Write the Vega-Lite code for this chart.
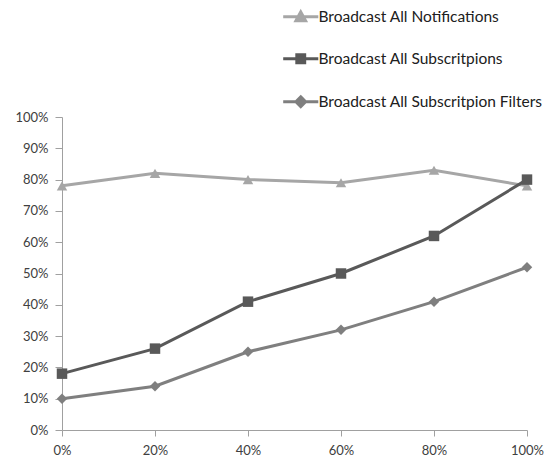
{
  "$schema": "https://vega.github.io/schema/vega-lite/v6.json",
  "width": 465,
  "height": 313,
  "autosize": {"type": "none"},
  "padding": {"left": 62, "top": 117, "right": 25, "bottom": 36},
  "background": "white",
  "config": {"view": {"stroke": null}, "font": "Lato"},
  "data": {"values": [
    {"x": 0, "pct": 0.78, "series": "Broadcast All Notifications"},
    {"x": 0.2, "pct": 0.82, "series": "Broadcast All Notifications"},
    {"x": 0.4, "pct": 0.80, "series": "Broadcast All Notifications"},
    {"x": 0.6, "pct": 0.79, "series": "Broadcast All Notifications"},
    {"x": 0.8, "pct": 0.83, "series": "Broadcast All Notifications"},
    {"x": 1.0, "pct": 0.78, "series": "Broadcast All Notifications"},
    {"x": 0, "pct": 0.18, "series": "Broadcast All Subscritpions"},
    {"x": 0.2, "pct": 0.26, "series": "Broadcast All Subscritpions"},
    {"x": 0.4, "pct": 0.41, "series": "Broadcast All Subscritpions"},
    {"x": 0.6, "pct": 0.50, "series": "Broadcast All Subscritpions"},
    {"x": 0.8, "pct": 0.62, "series": "Broadcast All Subscritpions"},
    {"x": 1.0, "pct": 0.80, "series": "Broadcast All Subscritpions"},
    {"x": 0, "pct": 0.10, "series": "Broadcast All Subscritpion Filters"},
    {"x": 0.2, "pct": 0.14, "series": "Broadcast All Subscritpion Filters"},
    {"x": 0.4, "pct": 0.25, "series": "Broadcast All Subscritpion Filters"},
    {"x": 0.6, "pct": 0.32, "series": "Broadcast All Subscritpion Filters"},
    {"x": 0.8, "pct": 0.41, "series": "Broadcast All Subscritpion Filters"},
    {"x": 1.0, "pct": 0.52, "series": "Broadcast All Subscritpion Filters"}
  ]},
  "encoding": {
    "x": {"field": "x", "type": "quantitative", "scale": {"domain": [0, 1], "nice": false},
      "axis": {"values": [0, 0.2, 0.4, 0.6, 0.8, 1], "format": ".0%", "title": null, "grid": false, "labelFlush": false,
        "domainColor": "#a0a0a0", "tickColor": "#a0a0a0", "tickSize": 6, "labelPadding": 8,
        "labelColor": "#404040", "labelFontSize": 13, "labelFont": "Lato"}},
    "y": {"field": "pct", "type": "quantitative", "scale": {"domain": [0, 1], "nice": false},
      "axis": {"values": [0, 0.1, 0.2, 0.3, 0.4, 0.5, 0.6, 0.7, 0.8, 0.9, 1], "format": ".0%", "title": null, "grid": false,
        "domainColor": "#a0a0a0", "tickColor": "#a0a0a0", "tickSize": 7, "labelPadding": 7,
        "labelColor": "#404040", "labelFontSize": 13, "labelFont": "Lato"}},
    "color": {"field": "series", "type": "nominal",
      "scale": {"domain": ["Broadcast All Notifications", "Broadcast All Subscritpions", "Broadcast All Subscritpion Filters"],
        "range": ["#a6a6a6", "#595959", "#7f7f7f"]},
      "legend": {"orient": "none", "legendX": 231, "legendY": -108, "title": null, "padding": 0,
        "symbolSize": 77, "symbolStrokeWidth": 3, "labelOffset": 10, "rowPadding": 21,
        "labelFontSize": 15.5, "labelFont": "Lato", "labelColor": "#202020", "labelLimit": 400,
        "encode": {"symbols": {"update": {
          "shape": {"signal": "datum.value === 'Broadcast All Notifications' ? 'M-4,0L4,0M0,-1.1L1.1,0.9L-1.1,0.9Z' : datum.value === 'Broadcast All Subscritpions' ? 'M-4,0L4,0M-0.9,-0.9H0.9V0.9H-0.9Z' : 'M-4,0L4,0M0,-1.1L1.1,0L0,1.1L-1.1,0Z'"},
          "fill": {"scale": "color", "field": "value"},
          "stroke": {"scale": "color", "field": "value"},
          "strokeWidth": {"value": 3},
          "opacity": {"value": 1}
        }}}}
    }
  },
  "layer": [
    {"mark": {"type": "line", "strokeWidth": 3}},
    {"transform": [{"filter": "datum.series === 'Broadcast All Notifications'"}],
      "mark": {"type": "point", "filled": true, "opacity": 1, "size": 110, "shape": "triangle-up"}},
    {"transform": [{"filter": "datum.series === 'Broadcast All Subscritpions'"}],
      "mark": {"type": "point", "filled": true, "opacity": 1, "size": 110, "shape": "square"}},
    {"transform": [{"filter": "datum.series === 'Broadcast All Subscritpion Filters'"}],
      "mark": {"type": "point", "filled": true, "opacity": 1, "size": 110, "shape": "diamond"}}
  ]
}
